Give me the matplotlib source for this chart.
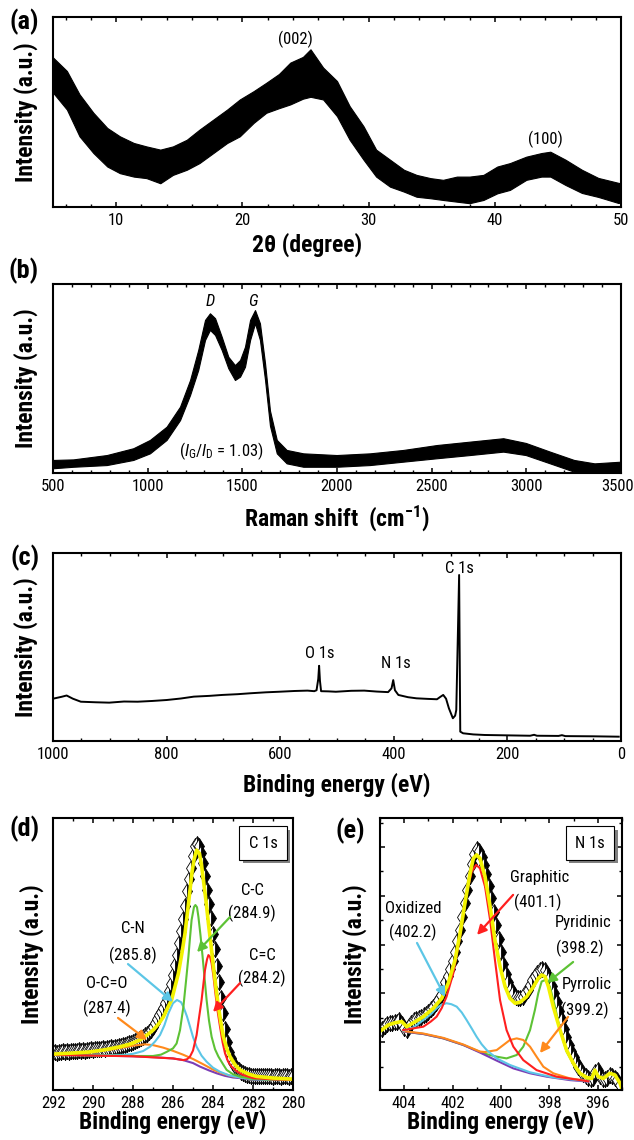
import numpy as np
import matplotlib
matplotlib.use("Agg")
import matplotlib.pyplot as plt
import matplotlib.patheffects as pe
from matplotlib import font_manager
from matplotlib.ticker import MultipleLocator, NullLocator
from matplotlib.transforms import ScaledTranslation

# ----------------------------
# Fonts: the reference uses a narrow sans; take one if installed
# ----------------------------
_fonts = font_manager.fontManager.ttflist
_names = {f.name for f in _fonts}
FONT, STRETCH = None, "normal"
for p in ["Liberation Sans Narrow", "Roboto Condensed", "Noto Sans Condensed",
          "Open Sans Condensed", "DejaVu Sans Condensed"]:
    if p in _names:
        FONT = p
        break
if FONT is None:
    for fam in ["Noto Sans", "Roboto", "Open Sans", "Liberation Sans", "DejaVu Sans"]:
        st = {f.stretch for f in _fonts if f.name == fam}
        hit = [s for s in ("condensed", "semi-condensed") if s in st]
        if hit:
            FONT, STRETCH = fam, hit[0]
            break
NARROW = FONT is not None
if FONT is None:
    FONT = "Liberation Sans"
plt.rcParams["font.family"] = [FONT, "DejaVu Sans"]
plt.rcParams["font.stretch"] = STRETCH
plt.rcParams["mathtext.fontset"] = "custom"
plt.rcParams["mathtext.rm"] = FONT
plt.rcParams["mathtext.it"] = FONT + ":italic"
plt.rcParams["mathtext.bf"] = FONT + ":bold"

F_LAB = 17 if NARROW else 14
F_TICK = 12 if NARROW else 10.5
F_ANN = 12 if NARROW else 10.5
F_PANEL = 19 if NARROW else 16

# ----------------------------
# (a) XRD - noisy band, upper / lower envelope (a.u.)
# ----------------------------
XRD_2THETA = [5.0, 6.1, 7.1, 8.2, 9.3, 10.3, 11.4, 12.4, 13.5, 14.5, 15.6, 16.6, 17.7, 18.8,
              19.8, 20.9, 21.9, 22.9, 23.8, 24.8, 25.4, 26.4, 27.5, 28.5, 29.6, 30.6, 31.7,
              32.8, 33.8, 34.9, 35.9, 37.0, 38.0, 39.1, 40.2, 41.2, 42.5, 43.7, 44.4, 45.6,
              46.9, 48.2, 49.8, 50.0]
XRD_HI = [78.7, 71.6, 59.3, 49.6, 41.6, 37.2, 33.7, 31.9, 30.2, 31.9, 35.4, 40.7, 46.0, 51.3,
          56.6, 61.0, 65.4, 70.0, 76.0, 79.0, 83.0, 73.4, 66.3, 53.1, 42.5, 30.2, 24.9,
          19.6, 16.9, 15.2, 14.3, 16.0, 16.0, 16.9, 21.3, 23.1, 26.5, 28.4, 29.1, 24.9,
          19.6, 15.3, 12.7, 12.5]
XRD_LO = [60.2, 51.3, 37.2, 28.4, 21.3, 17.8, 16.0, 15.2, 12.5, 16.9, 19.6, 23.1, 28.4, 33.7,
          37.2, 44.3, 49.6, 52.0, 54.0, 57.0, 58.0, 56.6, 47.8, 35.4, 24.9, 16.0, 10.7,
          8.1, 5.4, 4.6, 3.7, 2.8, 2.0, 3.7, 7.2, 9.0, 14.3, 16.0, 16.0, 11.6,
          7.4, 5.3, 2.1, 2.5]

# ----------------------------
# (b) Raman - upper / lower envelope
# ----------------------------
RAMAN_SHIFT = [500, 607, 784, 924, 1012, 1100, 1171, 1224, 1267, 1303, 1329, 1356, 1391, 1426,
               1461, 1488, 1514, 1541, 1567, 1593, 1620, 1646, 1682, 1734, 1822, 1998, 2174,
               2350, 2527, 2702, 2878, 2997, 3125, 3252, 3360, 3500]
RAMAN_HI = [6.9, 7.2, 9.5, 13.1, 17.5, 24.5, 35.1, 49.2, 65.1, 81.0, 84.5, 81.9, 72.1, 61.5,
            57.1, 59.8, 66.8, 81.0, 86.2, 79.2, 58.0, 33.0, 17.5, 12.2, 10.4, 9.5, 10.4,
            12.2, 14.8, 16.6, 18.4, 15.9, 11.3, 6.9, 5.1, 6.0]
RAMAN_LO = [2.5, 3.3, 4.2, 6.9, 10.4, 17.5, 28.0, 41.3, 54.5, 70.4, 75.7, 73.0, 65.1, 55.4,
            49.2, 51.0, 56.2, 70.4, 79.2, 70.4, 49.2, 25.0, 10.4, 5.1, 3.3, 3.3, 4.2,
            6.0, 7.8, 9.5, 11.3, 9.5, 5.1, 0.7, 0.2, 0.7]

# ----------------------------
# (c) XPS survey
# ----------------------------
SURVEY_BE = [997, 985, 976, 965, 951, 925, 901, 875, 851, 825, 800, 775, 752, 725, 702, 675,
             652, 625, 602, 575, 552, 540, 536, 533, 531.5, 530, 528, 515, 502, 475, 452, 430,
             410, 404, 401, 398, 392, 375, 360, 340, 324, 318, 313, 308, 303, 296, 292, 290,
             285, 283, 278, 260, 240, 200, 160, 153, 148, 110, 104, 98, 50, 4]
SURVEY_I = [22.7, 23.5, 24.2, 22.5, 20.9, 20.6, 20.4, 21.0, 20.9, 21.3, 21.8, 22.6, 23.6, 24.0,
            24.5, 24.9, 25.4, 25.9, 26.2, 26.6, 26.8, 26.5, 27.0, 33.0, 40.0, 32.0, 26.5, 26.4,
            26.2, 26.7, 26.8, 26.3, 26.0, 28.0, 32.4, 27.0, 24.5, 23.3, 22.7, 22.4, 22.2, 23.5,
            24.5, 22.5, 17.4, 12.1, 13.5, 16.5, 88.3, 5.0, 4.1, 3.5, 3.2, 3.0, 2.8, 3.3, 2.8,
            2.7, 3.1, 2.6, 2.5, 2.3]

# ----------------------------
# (d) C 1s high resolution
# ----------------------------
C1S_BE = np.round(np.arange(292.0, 279.95, -0.1), 1)
C1S_DATA = [13.8, 14.0, 13.7, 14.1, 13.9, 14.2, 14.0, 14.3, 14.1, 14.4, 14.2,
            14.5, 14.3, 14.6, 14.4, 14.7, 14.5, 14.8, 14.6, 14.9, 14.8,
            15.0, 14.9, 15.2, 15.0, 15.3, 15.2, 15.5, 15.4, 15.7, 15.6,
            15.9, 15.8, 16.1, 16.2, 16.4, 16.6, 16.8, 17.1, 17.3, 17.6,
            18.0, 18.3, 18.7, 19.1, 19.6, 20.1, 20.7, 21.4, 22.2, 23.1,
            24.6, 26.0, 27.4, 28.8, 30.3, 32.0, 34.0, 36.3, 39.0, 42.3,
            45.8, 49.8, 54.2, 58.6, 62.9, 67.8, 73.0, 77.5, 81.8, 86.0,
            89.8, 90.5, 89.8, 87.2, 83.5, 78.8, 73.6, 68.5, 63.2, 57.5,
            51.8, 45.5, 39.6, 33.8, 28.2, 22.6, 17.6, 14.0, 11.6, 10.0,
            8.9, 7.9, 7.2, 6.7, 6.2, 5.8, 5.5, 5.4, 5.3, 5.2,
            5.1, 5.3, 5.0, 5.2, 5.1, 5.3, 5.0, 5.2, 5.1, 4.9,
            5.2, 5.0, 5.1, 4.9, 5.1, 5.0, 5.2, 4.9, 5.0, 5.1]

C1S_BG_X = [292, 290, 288, 286.8, 286.0, 285.5, 285.0, 284.65, 284.2, 283.8, 283.4, 283.0,
            282.4, 281.8, 281.0, 280.0]
C1S_BG_Y = [12.9, 12.7, 12.4, 12.0, 11.6, 11.0, 9.9, 8.6, 7.2, 6.1, 5.2, 4.6, 4.2, 3.9, 3.8, 3.7]

C1S_OCO_X = [292, 291, 290, 289, 288, 287.4, 287, 286.5, 286, 285.5, 285, 284.5, 284, 283.5,
             283, 282, 281, 280]
C1S_OCO_Y = [13.0, 13.3, 14.0, 15.0, 16.3, 16.8, 16.5, 15.6, 14.4, 13.0, 11.4, 9.5, 7.5, 6.0,
             5.0, 4.1, 3.9, 3.8]

C1S_CN_X = [292, 290, 288.5, 288, 287.5, 287.15, 286.9, 286.65, 286.43, 286.23, 286.0, 285.8,
            285.6, 285.48, 285.3, 285.15, 285.0, 284.82, 284.57, 284.32, 284.0, 283.65, 283.2,
            282.65, 282, 281, 280]
C1S_CN_Y = [12.9, 12.8, 12.9, 13.3, 14.3, 15.9, 17.8, 20.2, 23.8, 28.2, 31.9, 33.1,
            32.3, 30.6, 27.0, 23.3, 19.5, 15.9, 12.6, 10.4, 8.2, 6.7, 5.4,
            4.6, 4.0, 3.8, 3.7]

C1S_CC_X = [292, 288, 287, 286.6, 286.32, 286.0, 285.82, 285.65, 285.48, 285.35, 285.23,
            285.15, 285.07, 284.95, 284.88, 284.8, 284.73, 284.62, 284.52, 284.42, 284.32,
            284.2, 284.07, 283.9, 283.73, 283.5, 283.32, 283.0, 282.65, 282, 281, 280]
C1S_CC_Y = [12.9, 12.5, 12.5, 13.0, 14.0, 15.3, 17.1, 22.0, 30.6, 40.0, 49.0,
            56.0, 62.5, 67.3, 68.0, 67.2, 63.7, 56.5, 49.0, 41.0, 33.1,
            25.5, 19.6, 15.0, 12.3, 9.5, 7.4, 5.8, 4.9, 4.1, 3.8, 3.7]

C1S_CEC_X = [292, 288, 286, 285.48, 285.3, 285.15, 285.0, 284.82, 284.7, 284.57, 284.48, 284.4,
             284.3, 284.23, 284.15, 284.07, 283.98, 283.9, 283.78, 283.65, 283.52, 283.4,
             283.25, 283.07, 282.8, 282.48, 282, 281, 280]
C1S_CEC_Y = [12.9, 12.4, 11.6, 11.0, 11.3, 12.3, 14.5, 20.2, 26.5, 33.1, 39.0, 44.1,
             48.0, 49.6, 49.0, 46.6, 42.0, 36.8, 29.5, 23.3, 17.5, 13.5,
             10.5, 8.6, 6.8, 5.5, 4.4, 3.9, 3.7]

C1S_FIT_X = [292, 291, 290.15, 289.4, 288.65, 288.1, 287.65, 287.3, 286.98, 286.7, 286.48,
             286.25, 286.07, 285.9, 285.73, 285.55, 285.4, 285.25, 285.15, 285.05, 284.95,
             284.82, 284.68, 284.58, 284.48, 284.35, 284.23, 284.1, 283.98, 283.85, 283.73,
             283.6, 283.48, 283.3, 283.15, 282.9, 282.65, 282.2, 281.82, 281, 280]
C1S_FIT_Y = [13.2, 13.6, 14.0, 14.8, 15.9, 17.0, 18.4, 20.2, 22.1, 24.5, 26.9,
             30.5, 33.1, 38.0, 42.9, 50.5, 57.6, 67.0, 73.5, 80.0, 84.6,
             88.2, 87.0, 83.0, 77.2, 69.5, 61.3, 53.2, 45.4, 37.5, 30.6,
             24.5, 19.6, 15.0, 12.3, 9.3, 7.4, 5.8, 5.0, 4.4, 4.0]

# ----------------------------
# (e) N 1s high resolution
# ----------------------------
N1S_BE = np.round(np.arange(404.9, 395.05, -0.1), 1)
N1S_DATA = [0.55, 0.65, 0.75, 0.8, 0.8, 0.85, 0.85, 0.9, 0.75, 0.6,
            0.5, 0.65, 0.8, 0.9, 0.95, 1.0, 1.05, 1.1, 1.15, 1.25,
            1.35, 1.45, 1.6, 1.75, 1.95, 2.2, 2.45, 2.7, 3.0, 3.35,
            3.7, 4.15, 4.6, 5.15, 5.7, 6.25, 6.8, 7.3, 7.7, 7.9,
            7.85, 7.6, 7.25, 6.9, 6.4, 5.9, 5.35, 4.8, 4.25, 3.7,
            3.2, 2.8, 2.45, 2.2, 2.0, 1.85, 1.8, 1.8, 1.85, 2.0,
            2.15, 2.35, 2.55, 2.7, 2.85, 2.95, 3.0, 2.95, 2.8, 2.6,
            2.3, 2.0, 1.65, 1.3, 0.9, 0.55, 0.2, -0.1, -0.35, -0.6,
            -0.8, -1.0, -1.15, -1.3, -1.4, -1.45, -1.5, -1.45, -1.2, -1.15,
            -1.4, -1.5, -1.5, -1.45, -1.35, -1.4, -1.45, -1.55, -1.75]

N1S_BG_X = [404.04, 403.21, 402.38, 401.56, 400.87, 400.18, 399.49, 398.80, 398.11, 397.15, 396.39]
N1S_BG_Y = [0.44, 0.34, 0.16, -0.11, -0.42, -0.75, -1.07, -1.27, -1.41, -1.55, -1.61]

N1S_OX_X = [404.04, 403.6, 403.21, 402.9, 402.66, 402.45, 402.25, 402.05, 401.83, 401.62,
            401.42, 401.2, 401.01, 400.8, 400.59, 400.18, 399.63, 398.80, 397.84, 396.39]
N1S_OX_Y = [0.47, 0.62, 0.91, 1.15, 1.39, 1.55, 1.60, 1.56, 1.46, 1.22,
            0.91, 0.55, 0.23, -0.08, -0.32, -0.66, -0.93, -1.23, -1.44, -1.60]

N1S_GR_X = [404.04, 403.21, 402.9, 402.66, 402.45, 402.25, 401.97, 401.69, 401.42, 401.21,
            401.03, 400.87, 400.66, 400.45, 400.25, 400.04, 399.77, 399.49, 399.08, 398.53,
            397.70, 396.39]
N1S_GR_Y = [0.50, 0.64, 0.85, 1.05, 1.40, 1.87, 2.83, 4.33, 6.10, 6.99,
            7.27, 7.13, 6.38, 5.01, 3.37, 1.73, 0.50, -0.18, -0.73, -1.14,
            -1.41, -1.60]

N1S_PYRR_X = [404.04, 403.21, 402.38, 401.56, 400.87, 400.66, 400.18, 399.90, 399.63, 399.35,
              399.08, 398.80, 398.53, 398.25, 397.84, 397.15, 396.39]
N1S_PYRR_Y = [0.46, 0.36, 0.18, -0.09, -0.38, -0.40, -0.32, -0.11, 0.095, 0.16,
              0.095, -0.18, -0.59, -1.0, -1.27, -1.48, -1.58]

N1S_PYRI_X = [404.04, 403.21, 402.38, 401.56, 400.73, 400.18, 399.77, 399.35, 399.08, 398.80,
              398.60, 398.46, 398.32, 398.18, 397.98, 397.77, 397.56, 397.29, 396.87, 396.39]
N1S_PYRI_Y = [0.44, 0.34, 0.16, -0.11, -0.45, -0.59, -0.66, -0.52, -0.18, 0.50,
              1.32, 2.01, 2.49, 2.55, 2.28, 1.46, 0.50, -0.38, -1.14, -1.55]

N1S_FIT_X = [404.93, 404.66, 404.38, 404.10, 403.90, 403.62, 403.21, 402.80, 402.45, 402.18,
             401.90, 401.69, 401.49, 401.28, 401.14, 401.01, 400.87, 400.66, 400.45, 400.25,
             400.04, 399.83, 399.63, 399.42, 399.21, 398.94, 398.66, 398.46, 398.32, 398.18,
             398.04, 397.84, 397.56, 397.29, 397.01, 396.74, 396.46, 396.25, 396.12, 395.98,
             395.77, 395.50, 395.29, 395.08, 395.01]
N1S_FIT_Y = [0.50, 0.71, 0.80, 0.85, 0.64, 0.80, 1.05, 1.39, 1.80, 2.42,
             3.37, 4.47, 5.70, 6.92, 7.54, 7.68, 7.54, 6.79, 5.56, 4.19,
             3.10, 2.28, 1.80, 1.60, 1.64, 1.87, 2.28, 2.62, 2.76, 2.69,
             2.28, 1.46, 0.50, -0.32, -0.86, -1.27, -1.44, -1.48, -1.14, -1.41,
             -1.48, -1.27, -1.34, -1.68, -1.89]

# ----------------------------
# Style
# ----------------------------
W, H = 634, 1140
YELLOW = "#f2f200"
RED = "#ff1f1f"
GREEN = "#5dc235"
CYAN = "#5cc6e6"
ORANGE = "#ff8a1c"
PURPLE = "#7b3db5"
LBL = dict(fontsize=F_LAB, fontweight="bold", va="center")

fig = plt.figure(figsize=(W / 100, H / 100), dpi=100)


def px_axes(l, t, r, b):
    return fig.add_axes([l / W, 1 - b / H, (r - l) / W, (b - t) / H])


def style(ax, xmaj, xmin, yticks=False):
    for s in ax.spines.values():
        s.set_linewidth(1.5)
    ax.xaxis.set_major_locator(MultipleLocator(xmaj))
    ax.xaxis.set_minor_locator(MultipleLocator(xmin))
    ax.tick_params(axis="both", which="both", direction="in", top=True, bottom=True,
                   labelsize=F_TICK, pad=4)
    ax.tick_params(which="major", length=3.8, width=1.1)
    ax.tick_params(which="minor", length=2.4, width=1.0)
    if yticks:
        ax.yaxis.set_major_locator(MultipleLocator(2))
        ax.yaxis.set_minor_locator(MultipleLocator(1))
        ax.tick_params(axis="y", which="both", left=True, right=True, labelleft=False)
    else:
        ax.yaxis.set_major_locator(NullLocator())
        ax.yaxis.set_minor_locator(NullLocator())


def labels(ax, xlabel, xoff, yoff, axw, axh, xc=0.5):
    ax.set_xlabel(xlabel, **LBL)
    ax.xaxis.set_label_coords(xc, -xoff / axh)
    ax.set_ylabel("Intensity (a.u.)", **LBL)
    ax.yaxis.set_label_coords(-yoff / axw, 0.5)


def arrow(ax, tail, tip, color):
    ax.annotate("", xy=tip, xytext=tail,
                arrowprops=dict(arrowstyle="-|>,head_length=0.55,head_width=0.28",
                                color=color, lw=1.6, shrinkA=0, shrinkB=0))


def boxed(ax, x, y, s):
    t = ax.text(x, y, s, transform=ax.transAxes, ha="center", va="center", fontsize=F_ANN,
                bbox=dict(boxstyle="square,pad=0.55", fc="white", ec="black", lw=0.8))
    t.get_bbox_patch().set_path_effects(
        [pe.SimplePatchShadow(offset=(2.5, -2.5), shadow_rgbFace="0.45", alpha=0.9), pe.Normal()])


def nudge_tick_label(ax, value, dx_px):
    locs = list(ax.xaxis.get_majorticklocs())
    ticks = ax.xaxis.get_major_ticks(len(locs))
    lab = ticks[locs.index(value)].label1
    lab.set_transform(lab.get_transform() + ScaledTranslation(dx_px / 100, 0, fig.dpi_scale_trans))


# (a) XRD
ax = px_axes(53, 17, 621, 207)
ax.fill_between(XRD_2THETA, XRD_LO, XRD_HI, color="black", lw=0.8)
ax.set_xlim(5, 50)
ax.set_ylim(0, 100)
style(ax, 10, 2)
labels(ax, "2\u03b8 (degree)", 38, 27, 568, 190, xc=0.447)
ax.text(24.2, 88.4, "(002)", ha="center", va="center", fontsize=F_ANN)
ax.text(44.05, 35.4, "(100)", ha="center", va="center", fontsize=F_ANN)

# (b) Raman
ax = px_axes(53, 284, 621, 473)
ax.fill_between(RAMAN_SHIFT, RAMAN_LO, RAMAN_HI, color="black", lw=0.8)
ax.set_xlim(500, 3500)
ax.set_ylim(0, 100)
style(ax, 500, 100)
labels(ax, r"Raman shift  (cm$^{\mathbf{-1}}$)", 45, 27, 568, 189)
ax.text(1329, 90.6, "D", ha="center", va="center", fontsize=F_ANN, style="italic")
ax.text(1558, 90.6, "G", ha="center", va="center", fontsize=F_ANN, style="italic")
ax.text(1391, 11.3, r"($I_{\mathrm{G}}$/$I_{\mathrm{D}}$ = 1.03)", ha="center", va="center",
        fontsize=F_ANN)
nudge_tick_label(ax, 3500, -3)

# (c) survey
ax = px_axes(53, 553, 621, 741)
ax.plot(SURVEY_BE, SURVEY_I, color="black", lw=1.4)
ax.set_xlim(1000, 0)
ax.set_ylim(0, 100)
style(ax, 200, 50)
labels(ax, "Binding energy (eV)", 44, 27, 568, 188)
ax.text(285, 91.8, "C 1s", ha="center", va="center", fontsize=F_ANN)
ax.text(531, 46.3, "O 1s", ha="center", va="center", fontsize=F_ANN)
ax.text(395.6, 41.3, "N 1s", ha="center", va="center", fontsize=F_ANN)

# (d) C 1s
ax = px_axes(53, 818, 293, 1090)
ax.plot(C1S_BE, C1S_DATA, ls="none", marker="d", ms=8, fillstyle="right", mfc="black",
        mfcalt="white", mec="black", mew=0.6)
ax.plot(C1S_BG_X, C1S_BG_Y, color=PURPLE, lw=1.5)
ax.plot(C1S_OCO_X, C1S_OCO_Y, color=ORANGE, lw=1.5)
ax.plot(C1S_CN_X, C1S_CN_Y, color=CYAN, lw=1.5)
ax.plot(C1S_CC_X, C1S_CC_Y, color=GREEN, lw=1.5)
ax.plot(C1S_CEC_X, C1S_CEC_Y, color=RED, lw=1.5)
ax.plot(C1S_FIT_X, C1S_FIT_Y, color=YELLOW, lw=2.6)
ax.set_xlim(292, 280)
ax.set_ylim(0, 100)
style(ax, 2, 1)
labels(ax, "Binding energy (eV)", 32, 21, 240, 272)
boxed(ax, 0.875, 0.908, "C 1s")
for x, y, s in [(282.05, 73.5, "C-C"), (282.05, 65.1, "(284.9)"),
                (288.0, 59.2, "C-N"), (288.0, 49.6, "(285.8)"),
                (281.55, 49.6, "C=C"), (281.55, 41.2, "(284.2)"),
                (289.3, 39.3, "O-C=O"), (289.3, 30.1, "(287.4)")]:
    ax.text(x, y, s, ha="center", va="center", fontsize=F_ANN)
arrow(ax, (283.15, 63.6), (284.8, 50.7), GREEN)
arrow(ax, (288.25, 46.3), (286.0, 32.4), CYAN)
arrow(ax, (282.65, 39.3), (284.0, 28.7), RED)
arrow(ax, (288.75, 26.5), (287.3, 18.4), ORANGE)

# (e) N 1s
ax = px_axes(380, 818, 622, 1090)
ax.plot(N1S_BE, N1S_DATA, ls="none", marker="d", ms=8, fillstyle="right", mfc="black",
        mfcalt="white", mec="black", mew=0.6)
ax.plot(N1S_PYRI_X, N1S_PYRI_Y, color=GREEN, lw=1.5)
ax.plot(N1S_BG_X, N1S_BG_Y, color=PURPLE, lw=1.5)
ax.plot(N1S_PYRR_X, N1S_PYRR_Y, color=ORANGE, lw=1.5)
ax.plot(N1S_OX_X, N1S_OX_Y, color=CYAN, lw=1.5)
ax.plot(N1S_GR_X, N1S_GR_Y, color=RED, lw=1.5)
ax.plot(N1S_FIT_X, N1S_FIT_Y, color=YELLOW, lw=2.6)
ax.set_xlim(405, 395)
ax.set_ylim(-1.955, 9.19)
style(ax, 2, 1, yticks=True)
labels(ax, "Binding energy (eV)", 32, 25, 242, 272)
boxed(ax, 0.868, 0.908, "N 1s")
for x, y, s in [(398.39, 6.77, "Graphitic"), (398.47, 5.75, "(401.1)"),
                (403.64, 5.50, "Oxidized"), (403.64, 4.52, "(402.2)"),
                (396.61, 4.89, "Pyridinic"), (396.74, 3.86, "(398.2)"),
                (396.45, 2.35, "Pyrrolic"), (396.53, 1.32, "(399.2)")]:
    ax.text(x, y, s, ha="center", va="center", fontsize=F_ANN)
arrow(ax, (399.50, 6.04), (400.99, 4.40), RED)
arrow(ax, (403.47, 4.07), (402.31, 1.86), CYAN)
arrow(ax, (397.02, 3.29), (398.10, 2.43), GREEN)
arrow(ax, (397.23, 1.04), (398.39, -0.44), ORANGE)

# panel letters
for x, y, s in [(24, 22, "(a)"), (24, 271, "(b)"), (25, 558, "(c)"), (25, 829, "(d)"),
                (350, 831, "(e)")]:
    fig.text(x / W, 1 - y / H, s, fontsize=F_PANEL, fontweight="bold", ha="center", va="center")

fig.savefig("out.png", dpi=100)
